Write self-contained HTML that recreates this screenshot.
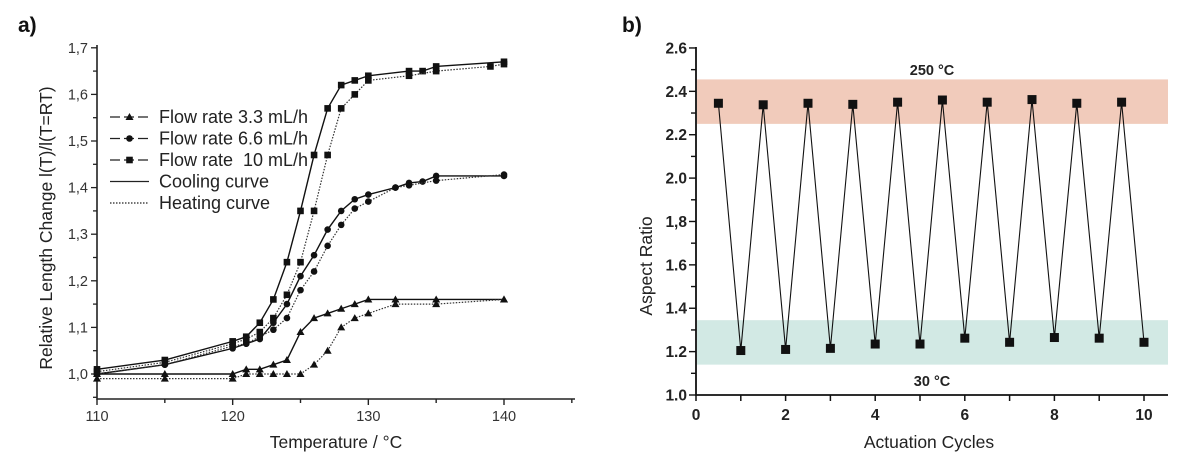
<!DOCTYPE html>
<html><head><meta charset="utf-8"><style>
html,body{margin:0;padding:0;background:#fff;}
svg{display:block;font-family:"Liberation Sans",Arial,sans-serif;}
</style></head><body>
<svg id="fig" width="1200" height="462" viewBox="0 0 1200 462">
<text x="18" y="32" font-size="21" font-weight="bold" fill="#111">a)</text>
<text x="622" y="32" font-size="21" font-weight="bold" fill="#111">b)</text>
<g id="chartA"></g>
<g id="chartB"></g>
</svg>
<script>
const NS="http://www.w3.org/2000/svg";
// ---- Chart A data ----
const tC33=[110,115,120,121,122,123,124,125,126,127,128,129,130,132,135,140];
const vC33=[1.0,1.0,1.0,1.01,1.01,1.02,1.03,1.09,1.12,1.13,1.14,1.15,1.16,1.16,1.16,1.16];
const tH33=[110,115,120,121,122,123,124,125,126,127,128,129,130,132,135,140];
const vH33=[0.99,0.99,0.99,1.0,1.0,1.0,1.0,1.0,1.02,1.05,1.10,1.12,1.13,1.15,1.15,1.16];
const tC66=[110,115,120,121,122,123,124,125,126,127,128,129,130,132,133,134,135,140];
const vC66=[1.0,1.02,1.055,1.065,1.075,1.11,1.15,1.21,1.255,1.31,1.35,1.375,1.385,1.40,1.41,1.413,1.425,1.425];
const tH66=[110,115,120,121,122,123,124,125,126,127,128,129,130,132,133,135,140];
const vH66=[1.0,1.02,1.06,1.065,1.08,1.095,1.12,1.18,1.22,1.275,1.32,1.355,1.37,1.40,1.405,1.415,1.428];
const tC10=[110,115,120,121,122,123,124,125,126,127,128,129,130,133,134,135,140];
const vC10=[1.01,1.03,1.07,1.08,1.11,1.16,1.24,1.35,1.47,1.57,1.62,1.63,1.64,1.65,1.65,1.66,1.67];
const tH10=[110,115,120,121,122,123,124,125,126,127,128,129,130,133,135,139,140];
const vH10=[1.005,1.025,1.065,1.075,1.09,1.12,1.17,1.24,1.35,1.47,1.57,1.60,1.63,1.64,1.65,1.66,1.665];
const xTicksA=[110,120,130,140];
const yTicksA=[1.0,1.1,1.2,1.3,1.4,1.5,1.6,1.7];
// ---- Chart B data ----
const cycles=[0.5,1,1.5,2,2.5,3,3.5,4,4.5,5,5.5,6,6.5,7,7.5,8,8.5,9,9.5,10];
const ratio=[2.345,1.205,2.338,1.21,2.345,1.215,2.34,1.235,2.35,1.235,2.36,1.262,2.35,1.243,2.362,1.265,2.345,1.262,2.35,1.243];
const xTicksB=[0,2,4,6,8,10];
const yTicksB=["1.0","1.2","1.4","1.6","1,8","2.0","2.2","2.4","2.6"];
const bandHot=[2.25,2.455];
const bandCold=[1.14,1.345];

function el(p,tag,a){const e=document.createElementNS(NS,tag);for(const k in a)e.setAttribute(k,a[k]);p.appendChild(e);return e;}

// Chart A
const A=document.getElementById('chartA');
const ax=t=>97+(t-110)*(504-97)/30;
const ay=v=>374-(v-1.0)*466;
let e;
e=el(A,'path',{d:`M97 45 V399 H575`,stroke:'#222','stroke-width':1.6,fill:'none'});

for(let t=110;t<=145;t+=5){el(A,'line',{x1:ax(t),x2:ax(t),y1:399,y2:t%10==0?405:403,stroke:'#222','stroke-width':1.4});}
xTicksA.forEach(t=>{e=el(A,'text',{x:ax(t),y:421,'font-size':14.5,'text-anchor':'middle',fill:'#333'});e.textContent=t;
});
for(let v=0.95;v<=1.701;v+=0.05){el(A,'line',{x1:97,x2:Math.abs(v*10-Math.round(v*10))<0.01?91:93,y1:ay(v),y2:ay(v),stroke:'#222','stroke-width':1.3});}
yTicksA.forEach(v=>{e=el(A,'text',{x:88,y:ay(v)+5,'font-size':14.5,'text-anchor':'end',fill:'#333'});e.textContent=v.toFixed(1).replace('.',',');
});
e=el(A,'text',{x:336,y:448,'font-size':17.5,'text-anchor':'middle',fill:'#222'});e.textContent='Temperature / °C';

e=el(A,'text',{x:0,y:0,'font-size':17.5,'text-anchor':'middle',fill:'#222',transform:'translate(52,228) rotate(-90)'});e.textContent='Relative Length Change l(T)/l(T=RT)';


function marker(p,x,y,type){
 if(type==='tri') return el(p,'path',{d:`M${x} ${y-4} L${x+4} ${y+3} L${x-4} ${y+3}Z`,fill:'#111'});
 if(type==='dot') return el(p,'circle',{cx:x,cy:y,r:3.3,fill:'#111'});
 return el(p,'rect',{x:x-3.3,y:y-3.3,width:6.6,height:6.6,fill:'#111'});
}
function series(ts,vs,type,dotted,name){
 const g=el(A,'g',{});
 el(g,'polyline',{points:ts.map((t,i)=>ax(t)+','+ay(vs[i])).join(' '),fill:'none',stroke:dotted?'#333':'#111','stroke-width':dotted?1.2:1.4,'stroke-dasharray':dotted?'1.5,1.5':'none'});
 ts.forEach((t,i)=>marker(g,ax(t),ay(vs[i]),type));
}
series(tC33,vC33,'tri',false,'cooling-3-3');series(tH33,vH33,'tri',true,'heating-3-3');
series(tC66,vC66,'dot',false,'cooling-6-6');series(tH66,vH66,'dot',true,'heating-6-6');
series(tC10,vC10,'sq',false,'cooling-10');series(tH10,vH10,'sq',true,'heating-10');

const legItems=[['Flow rate 3.3 mL/h','tri','dash'],['Flow rate 6.6 mL/h','dot','dash'],['Flow rate  10 mL/h','sq','dash'],['Cooling curve',null,'solid'],['Heating curve',null,'dot']];
legItems.forEach((it,i)=>{
 const y=117+i*21.5;const g=el(A,'g',{});
 
 el(g,'line',{x1:110,x2:149,y1:y,y2:y,stroke:'#222','stroke-width':1.3,'stroke-dasharray':it[2]==='dash'?'10,4':it[2]==='dot'?'1.5,1.5':'none'});
 if(it[1])marker(g,129.5,y,it[1]);
 const t=el(g,'text',{x:159,y:y+6,'font-size':18,fill:'#222'});t.textContent=it[0];t.setAttribute('style','white-space:pre');
});

// Chart B
const B=document.getElementById('chartB');
const bx=c=>696+c*44.8;
const by=v=>395-(v-1.0)*216.9;
e=el(B,'rect',{x:697,y:by(bandHot[1]),width:471,height:by(bandHot[0])-by(bandHot[1]),fill:'#f1cbbb'});

e=el(B,'rect',{x:697,y:by(bandCold[1]),width:471,height:by(bandCold[0])-by(bandCold[1]),fill:'#d2e9e4'});

e=el(B,'path',{d:`M696 47 V395 H1168`,stroke:'#111','stroke-width':1.8,fill:'none'});

for(let c=0;c<=10;c++)el(B,'line',{x1:bx(c),x2:bx(c),y1:395,y2:401,stroke:'#111','stroke-width':1.5});
xTicksB.forEach(c=>{e=el(B,'text',{x:bx(c),y:420,'font-size':15.5,'font-weight':'bold','text-anchor':'middle',fill:'#222'});e.textContent=c;
});
for(let i=0;i<=16;i++){const v=1+i*0.1;el(B,'line',{x1:696,x2:i%2==0?689:691,y1:by(v),y2:by(v),stroke:'#111','stroke-width':1.4});}
yTicksB.forEach(s=>{const v=parseFloat(s.replace(',','.'));e=el(B,'text',{x:687,y:by(v)+5.5,'font-size':15.5,'font-weight':'bold','text-anchor':'end',fill:'#222'});e.textContent=s;
});
e=el(B,'text',{x:929,y:448,'font-size':17.5,'text-anchor':'middle',fill:'#222'});e.textContent='Actuation Cycles';

e=el(B,'text',{x:0,y:0,'font-size':17.5,'text-anchor':'middle',fill:'#222',transform:'translate(652,266) rotate(-90)'});e.textContent='Aspect Ratio';

e=el(B,'text',{x:932,y:75,'font-size':14.5,'font-weight':'bold','text-anchor':'middle',fill:'#222'});e.textContent='250 °C';

e=el(B,'text',{x:932,y:386,'font-size':14.5,'font-weight':'bold','text-anchor':'middle',fill:'#222'});e.textContent='30 °C';

e=el(B,'polyline',{points:cycles.map((c,i)=>bx(c)+','+by(ratio[i])).join(' '),fill:'none',stroke:'#111','stroke-width':1.1});

cycles.forEach((c,i)=>{e=el(B,'rect',{x:bx(c)-4.5,y:by(ratio[i])-4.5,width:9,height:9,fill:'#111'});
});
</script>
</body></html>
